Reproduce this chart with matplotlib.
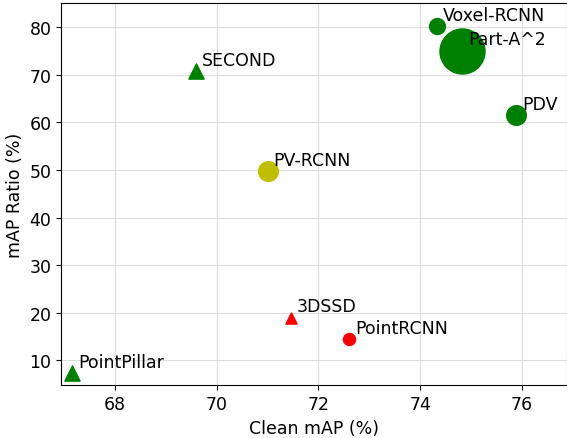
import numpy as np
import matplotlib
matplotlib.use('Agg')
import matplotlib.pyplot as plt

# Detector results
names = ['PointPillar', 'SECOND', 'PV-RCNN', '3DSSD', 'PointRCNN',
         'Voxel-RCNN', 'Part-A^2', 'PDV']
clean_map = [67.17, 69.6, 71.0, 71.46, 72.6, 74.32, 74.82, 75.88]
map_ratio = [7.3, 70.7, 49.8, 19.0, 14.4, 80.2, 75.1, 61.6]
sizes = [120, 120, 200, 65, 75, 130, 1050, 200]
markers = ['^', '^', 'o', '^', 'o', 'o', 'o', 'o']
colors = ['g', 'g', 'y', 'r', 'r', 'g', 'g', 'g']

fig = plt.figure(figsize=(5.67, 4.39), dpi=100)
ax = plt.gca()
for n, x, y, s, m, c in zip(names, clean_map, map_ratio, sizes, markers, colors):
    ax.scatter(x, y, s=s, marker=m, c=c, zorder=3)
    ax.text(x + 0.12, y + 1.3, n, fontsize=12.5)

ax.set_xlim(66.95, 76.88)
ax.set_ylim(4.75, 85)
ax.set_xticks([68, 70, 72, 74, 76])
ax.set_yticks([10, 20, 30, 40, 50, 60, 70, 80])
ax.tick_params(labelsize=12.5)
ax.grid(True, color='#dddddd', linewidth=0.8)
ax.set_axisbelow(True)
plt.xlabel('Clean mAP (%)', fontsize=12.5)
plt.ylabel('mAP Ratio (%)', fontsize=12.5)
fig.subplots_adjust(left=0.108, right=1.0, top=0.99, bottom=0.12)
plt.savefig('out.png')
